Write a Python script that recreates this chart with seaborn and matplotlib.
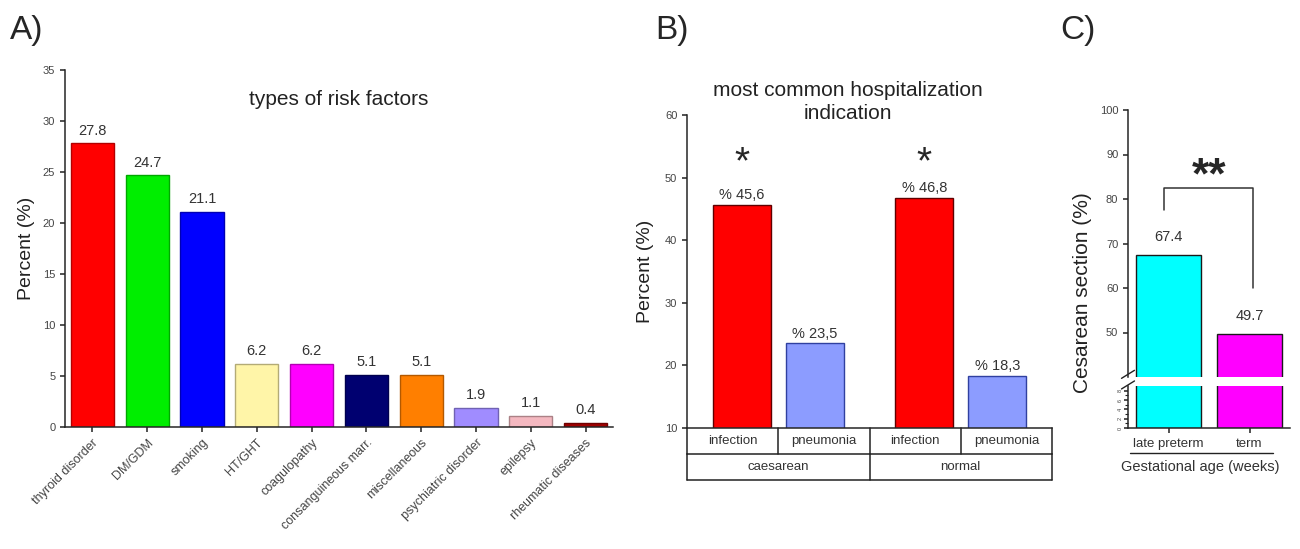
import numpy as np
import pandas as pd
import matplotlib.pyplot as plt
import matplotlib.colors as mcolors
import matplotlib.transforms as mtransforms
from matplotlib.lines import Line2D
import seaborn as sns

# ---------------------------------------------------------------
# data
# ---------------------------------------------------------------
risk_factors = ['thyroid disorder', 'DM/GDM', 'smoking', 'HT/GHT', 'coagulopathy',
                'consanguineous marr.', 'miscellaneous', 'psychiatric disorder',
                'epilepsy', 'rheumatic diseases']
risk_percent = [27.8, 24.7, 21.1, 6.2, 6.2, 5.1, 5.1, 1.9, 1.1, 0.4]
risk_colors = ['#ff0000', '#00ee00', '#0000ff', '#fff5a8', '#ff00ff',
               '#000070', '#ff7f00', '#a08cff', '#f4b8c0', '#a00000']

delivery = ['caesarean', 'caesarean', 'normal', 'normal']
indication = ['infection', 'pneumonia', 'infection', 'pneumonia']
hosp_percent = [45.6, 23.5, 46.8, 18.3]

gest_age = ['late preterm', 'term']
cesarean_percent = [67.4, 49.7]

W, H = 1300, 549
sns.set_style('ticks')
plt.rcParams['font.family'] = ['Liberation Sans', 'DejaVu Sans']
plt.rcParams['axes.linewidth'] = 1.1
plt.rcParams['xtick.major.width'] = 1.1
plt.rcParams['ytick.major.width'] = 1.1
plt.rcParams['xtick.major.size'] = 3.5
plt.rcParams['ytick.major.size'] = 3.5
plt.rcParams['xtick.color'] = '#222222'
plt.rcParams['ytick.color'] = '#222222'

fig = plt.figure(figsize=(W / 100, H / 100), dpi=100)
txt = '#333333'


def darker(c, f=0.7):
    r, g, b = mcolors.to_rgb(c)
    return (r * f, g * f, b * f)


# ---------------------------------------------------------------
# A) types of risk factors
# ---------------------------------------------------------------
ax_a = fig.add_axes([65 / W, 1 - 427 / H, 548 / W, 357 / H])
df_a = pd.DataFrame({'factor': risk_factors, 'percent': risk_percent})
sns.barplot(data=df_a, x='factor', y='percent', hue='factor', palette=risk_colors,
            legend=False, width=0.79, linewidth=1.0, saturation=1, ax=ax_a)
for patch, c in zip(ax_a.patches, risk_colors):
    patch.set_edgecolor(darker(c))
for cont in ax_a.containers:
    ax_a.bar_label(cont, fmt='%.1f', padding=4, fontsize=10.5, color=txt)
ax_a.set_xlim(-0.5, 9.5)
ax_a.set_ylim(0, 35)
ax_a.set_yticks(range(0, 36, 5))
ax_a.tick_params(axis='y', labelsize=8, labelcolor='#444444')
ax_a.set_xticks(range(len(risk_factors)))
ax_a.set_xticklabels(risk_factors, rotation=45, ha='right', rotation_mode='anchor',
                     fontsize=9, color='#444444')
ax_a.set_xlabel('')
ax_a.set_ylabel('Percent (%)', fontsize=14, color='#222222', labelpad=6)
ax_a.set_title('types of risk factors', fontsize=15, color='#222222', y=0.88)
sns.despine(ax=ax_a)
fig.text(10 / W, 1 - 30 / H, 'A)', fontsize=24, va='center', ha='left')

# ---------------------------------------------------------------
# B) most common hospitalization indication
# ---------------------------------------------------------------
ax_b = fig.add_axes([687 / W, 1 - 428 / H, 365 / W, 313 / H])
df_b = pd.DataFrame({'delivery': delivery, 'indication': indication,
                     'percent': hosp_percent})
sns.barplot(data=df_b, x='delivery', y='percent', hue='indication',
            palette=['#ff0000', '#8c9cff'], width=0.8, gap=0.2, legend=False,
            linewidth=1.0, saturation=1, ax=ax_b)
for cont, ec in zip(ax_b.containers, ['#600000', '#3040a0']):
    for patch in cont:
        patch.set_edgecolor(ec)
    labels = ['% ' + f'{v:.1f}'.replace('.', ',') for v in cont.datavalues]
    ax_b.bar_label(cont, labels=labels, padding=2, fontsize=10.5, color=txt)
# significance stars over the infection bars
for patch in ax_b.containers[0]:
    ax_b.text(patch.get_x() + patch.get_width() / 2, 52.3, '*', fontsize=28,
              ha='center', va='center')
ax_b.set_xlim(-0.5, 1.5)
ax_b.set_ylim(10, 60)
ax_b.set_yticks(range(10, 61, 10))
ax_b.tick_params(axis='y', labelsize=8, labelcolor='#444444')
ax_b.set_xticks([])
ax_b.set_xlabel('')
ax_b.set_ylabel('Percent (%)', fontsize=14, color='#222222', labelpad=8)
sns.despine(ax=ax_b)
ax_b.set_title('most common hospitalization\nindication', fontsize=15,
               color='#222222', x=0.44, y=0.96, linespacing=1.3)

# table under panel B
trans = mtransforms.blended_transform_factory(ax_b.transData, ax_b.transAxes)
r1, r2 = -26 / 313, -52 / 313
lkw = dict(color='#222222', lw=1.1, transform=trans, clip_on=False)
for yy in [r1, r2]:
    ax_b.add_line(Line2D([-0.5, 1.5], [yy, yy], **lkw))
for xx in [-0.5, 0.0, 0.5, 1.0, 1.5]:
    ax_b.add_line(Line2D([xx, xx], [0, r1], **lkw))
for xx in [-0.5, 0.5, 1.5]:
    ax_b.add_line(Line2D([xx, xx], [r1, r2], **lkw))
for xx, lab in zip([-0.25, 0.25, 0.75, 1.25], indication):
    ax_b.text(xx, r1 / 2, lab, transform=trans, ha='center', va='center',
              fontsize=9.5, color=txt)
for xx, lab in zip([0, 1], ['caesarean', 'normal']):
    ax_b.text(xx, (r1 + r2) / 2, lab, transform=trans, ha='center', va='center',
              fontsize=9.5, color=txt)
fig.text(655 / W, 1 - 30 / H, 'B)', fontsize=24, va='center', ha='left')

# ---------------------------------------------------------------
# C) cesarean section by gestational age (broken y axis)
# ---------------------------------------------------------------
ax_c = fig.add_axes([1128 / W, 1 - 377 / H, 162 / W, 267 / H])
ax_c2 = fig.add_axes([1128 / W, 1 - 428 / H, 162 / W, 42 / H])
df_c = pd.DataFrame({'age': gest_age, 'percent': cesarean_percent})
for ax in [ax_c, ax_c2]:
    sns.barplot(data=df_c, x='age', y='percent', hue='age',
                palette=['#00ffff', '#ff00ff'], legend=False, width=0.8,
                linewidth=1.0, edgecolor='#1a1a1a', saturation=1, ax=ax)
    ax.set_xlim(-0.5, 1.5)
    ax.set_xlabel('')
    ax.set_ylabel('')
ax_c.bar_label(ax_c.containers[0], fmt='%.1f', padding=8, fontsize=10.5, color=txt)
ax_c.bar_label(ax_c.containers[1], fmt='%.1f', padding=8, fontsize=10.5, color=txt)
ax_c.set_ylim(40, 100)
ax_c.set_yticks(range(50, 101, 10))
ax_c.tick_params(axis='y', labelsize=8, labelcolor='#444444')
ax_c.set_xticks([])
sns.despine(ax=ax_c, bottom=True)

ax_c2.set_ylim(0, 9)
ax_c2.set_yticks([0, 2, 4, 6, 8])
ax_c2.set_yticks([1, 3, 5, 7], minor=True)
ax_c2.tick_params(axis='y', which='major', labelsize=4, labelcolor='#444444',
                  length=3, pad=1)
ax_c2.tick_params(axis='y', which='minor', length=2, width=0.8)
for lab in ax_c2.get_yticklabels():
    lab.set_rotation(90)
    lab.set_va('center')
ax_c2.set_xticks([0, 1])
ax_c2.set_xticklabels(gest_age, fontsize=9.5, color=txt)
sns.despine(ax=ax_c2)

# break marks on the y axis
bkw = dict(color='#222222', lw=1.0, clip_on=False)
ax_c.plot([-0.04, 0.04], [-0.005, 0.025], transform=ax_c.transAxes, **bkw)
ax_c2.plot([-0.04, 0.04], [0.93, 1.12], transform=ax_c2.transAxes, **bkw)

# significance bracket
ax_c.plot([-0.05, -0.05, 1.04, 1.04], [77.6, 82.5, 82.5, 60.0],
          color='#333333', lw=1.1)
ax_c.text(0.5, 85.0, '**', fontsize=32, fontweight='bold', ha='center', va='center')

fig.text(1082 / W, 1 - 293 / H, 'Cesarean section (%)', fontsize=15,
         rotation=90, ha='center', va='center', color='#222222')
fig.add_artist(Line2D([1130 / W, 1273 / W], [1 - 453 / H, 1 - 453 / H],
                      color='#222222', lw=1.0))
fig.text(1200 / W, 1 - 467 / H, 'Gestational age (weeks)', fontsize=10.5,
         ha='center', va='center', color=txt)
fig.text(1060 / W, 1 - 30 / H, 'C)', fontsize=24, va='center', ha='left')

fig.savefig('out.png', dpi=100, facecolor='white')
